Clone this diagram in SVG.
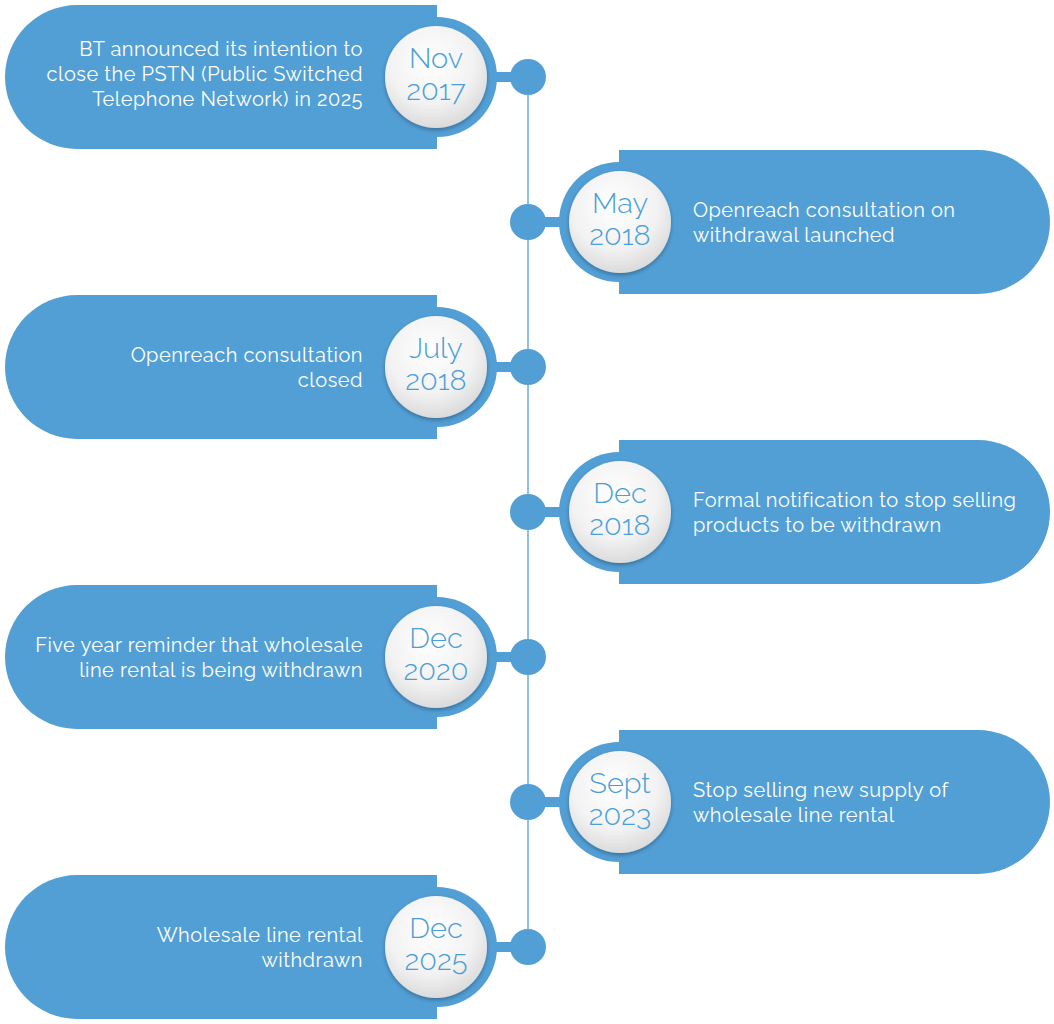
<svg xmlns="http://www.w3.org/2000/svg" width="1054" height="1024" viewBox="0 0 1054 1024">
<defs>
<radialGradient id="g" cx="0.45" cy="0.35" r="0.7"><stop offset="0" stop-color="#ffffff"/><stop offset="0.6" stop-color="#f2f2f2"/><stop offset="1" stop-color="#d6d6d6"/></radialGradient>
<filter id="sh" x="-20%" y="-20%" width="140%" height="140%"><feDropShadow dx="0" dy="2" stdDeviation="2" flood-color="#000" flood-opacity="0.3"/></filter>
</defs>
<style>
.b{fill:#529fd6}
.t{font-family:Raleway,Lato,"Open Sans",sans-serif;font-size:20px;letter-spacing:0.5px;fill:#fff}
.l{text-anchor:end}
.d{font-family:Raleway,Lato,"Open Sans",sans-serif;font-size:29px;font-weight:300;fill:#4a9fd8;text-anchor:middle}
.c{fill:url(#g);filter:url(#sh)}
</style>
<g id="connectors">
<line x1="528" y1="77" x2="528" y2="947" stroke="#8fc0e6" stroke-width="2"/>
<path class="b" d="M480 72H528V82H480Z M528 217H580V227H528Z M480 362H528V372H480Z M528 507H580V517H528Z M480 652H528V662H480Z M528 797H580V807H528Z M480 942H528V952H480Z"/>
<circle class="b" cx="528" cy="77" r="18"/><circle class="b" cx="528" cy="222" r="18"/><circle class="b" cx="528" cy="367" r="18"/><circle class="b" cx="528" cy="512" r="18"/><circle class="b" cx="528" cy="657" r="18"/><circle class="b" cx="528" cy="802" r="18"/><circle class="b" cx="528" cy="947" r="18"/>
</g>
<g id="n1"><path class="b" d="M437 5V149H77A72 72 0 0 1 77 5Z"/><circle class="b" cx="437" cy="77" r="60"/><circle class="c" cx="436" cy="77" r="51"/>
<text class="d" x="436" y="68">Nov</text><text class="d" x="436" y="100">2017</text>
<text class="t l" x="363" y="56">BT announced its intention to</text><text class="t l" x="363" y="81">close the PSTN (Public Switched</text><text class="t l" x="363" y="106">Telephone Network) in 2025</text></g>
<g id="n2"><path class="b" d="M619 150V294H978A72 72 0 0 0 978 150Z"/><circle class="b" cx="619" cy="222" r="60"/><circle class="c" cx="620" cy="222" r="51"/>
<text class="d" x="620" y="213">May</text><text class="d" x="620" y="245">2018</text>
<text class="t" x="693" y="217">Openreach consultation on</text><text class="t" x="693" y="242">withdrawal launched</text></g>
<g id="n3"><path class="b" d="M437 295V439H77A72 72 0 0 1 77 295Z"/><circle class="b" cx="437" cy="367" r="60"/><circle class="c" cx="436" cy="367" r="51"/>
<text class="d" x="436" y="358">July</text><text class="d" x="436" y="390">2018</text>
<text class="t l" x="363" y="362">Openreach consultation</text><text class="t l" x="363" y="387">closed</text></g>
<g id="n4"><path class="b" d="M619 440V584H978A72 72 0 0 0 978 440Z"/><circle class="b" cx="619" cy="512" r="60"/><circle class="c" cx="620" cy="512" r="51"/>
<text class="d" x="620" y="503">Dec</text><text class="d" x="620" y="535">2018</text>
<text class="t" x="693" y="507">Formal notification to stop selling</text><text class="t" x="693" y="532">products to be withdrawn</text></g>
<g id="n5"><path class="b" d="M437 585V729H77A72 72 0 0 1 77 585Z"/><circle class="b" cx="437" cy="657" r="60"/><circle class="c" cx="436" cy="657" r="51"/>
<text class="d" x="436" y="648">Dec</text><text class="d" x="436" y="680">2020</text>
<text class="t l" x="363" y="652">Five year reminder that wholesale</text><text class="t l" x="363" y="677">line rental is being withdrawn</text></g>
<g id="n6"><path class="b" d="M619 730V874H978A72 72 0 0 0 978 730Z"/><circle class="b" cx="619" cy="802" r="60"/><circle class="c" cx="620" cy="802" r="51"/>
<text class="d" x="620" y="793">Sept</text><text class="d" x="620" y="825">2023</text>
<text class="t" x="693" y="797">Stop selling new supply of</text><text class="t" x="693" y="822">wholesale line rental</text></g>
<g id="n7"><path class="b" d="M437 875V1019H77A72 72 0 0 1 77 875Z"/><circle class="b" cx="437" cy="947" r="60"/><circle class="c" cx="436" cy="947" r="51"/>
<text class="d" x="436" y="938">Dec</text><text class="d" x="436" y="970">2025</text>
<text class="t l" x="363" y="942">Wholesale line rental</text><text class="t l" x="363" y="967">withdrawn</text></g>
</svg>
